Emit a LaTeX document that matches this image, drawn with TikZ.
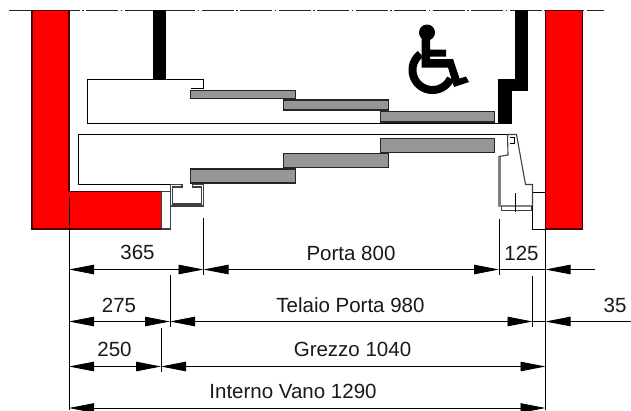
\documentclass[tikz,border=0pt]{standalone}
\usepackage{fontspec}
\setmainfont{Liberation Sans}
\usetikzlibrary{arrows.meta}
\definecolor{brick}{RGB}{255,0,0}
\definecolor{glass}{RGB}{150,150,150}
\tikzset{
  wall/.style={fill=brick,draw=black!70!red,line width=1.1pt},
  outline/.style={draw=black,line width=1pt},
  profile/.style={draw=black!75,line width=1.1pt},
  pane/.style={fill=glass,draw=black!85,line width=1.1pt},
  solidpart/.style={fill=black,draw=black,line width=.6pt},
  axisline/.style={draw=black!85,line width=1pt,dash pattern=on 32pt off 2.5pt on 1.5pt off 2.5pt},
  extline/.style={draw=black,line width=.9pt},
  dimline/.style={draw=black,line width=.8pt,{Triangle[length=25pt,width=9.5pt]}-{Triangle[length=25pt,width=9.5pt]}},
  dimplain/.style={draw=black,line width=.8pt},
  dimopen/.style={draw=black,line width=.8pt,{Triangle[length=25pt,width=9.5pt]}-},
  dimtext/.style={font=\fontsize{20.5}{23}\selectfont,inner sep=0pt,text=black!90},
}
\begin{document}
\begin{tikzpicture}[x=1pt,y=-1pt]
\useasboundingbox (0,0) rectangle (631,410);
\clip (0,0) rectangle (631,410);
\fill[white] (0,0) rectangle (631,410);
% axis
\coordinate (axL) at (9,10.5); \coordinate (axR) at (604,10.5);
\draw[axisline] (axL) -- (axR);
% walls
\draw[wall] (32,10.5) -- (69,10.5) -- (69,191.5) -- (161.5,191.5) -- (161.5,229) -- (32,229) -- cycle;
\draw[wall] (545.5,10.5) rectangle (582.5,229);
\draw[profile,fill=white] (161.5,191.5) rectangle (170.5,229);
% black partition
\draw[solidpart] (153.5,10.5) rectangle (165,79);
\draw[solidpart] (515,10.5) -- (527.5,10.5) -- (527.5,90.5) -- (511,90.5) -- (511,123.5) -- (498.5,123.5) -- (498.5,79) -- (515,79) -- cycle;
% door leaves
\draw[outline] (190.5,88.5) -- (203.5,88.5) -- (203.5,79) -- (87.5,79) -- (87.5,123.5) -- (510.5,123.5);
\draw[outline] (170,184.5) -- (78,184.5) -- (78,134.5) -- (507,134.5);
% panes
\draw[pane] (190.5,90.5) rectangle (295.5,98.5);
\draw[pane] (283.5,100) rectangle (388.3,110);
\draw[pane] (380.7,111.5) rectangle (494.3,122);
\draw[pane] (380.7,138.3) rectangle (494.3,152.3);
\draw[pane] (283.5,153.5) rectangle (388.3,167.3);
\draw[pane] (190.5,169) rectangle (295.5,183);
% left frame
\draw[profile] (182,187) -- (182,184.5) -- (170.5,184.5) -- (170.5,206) -- (203.5,206) -- (203.5,184.5) -- (192.5,184.5) -- (192.5,187) -- (201.5,187) -- (201.5,204) -- (172.5,204) -- (172.5,187) -- cycle;
% right frame
\draw[profile] (507.5,134.5) -- (516.5,134.5) -- (525.5,184.5) -- (532.5,184.5) -- (532.5,206) -- (499,206) -- (499,156.5) -- (508,155) -- cycle;
\draw[profile,line width=2pt,draw=black!50] (499.5,156.5) -- (499.5,206);
\draw[outline] (510,137) -- (514,137) -- (514,143) -- (510,143);
\draw[profile,line width=.9pt] (501,206) -- (501,210) -- (531,210) -- (531,206);
\draw[outline,line width=.7pt] (515.5,193) -- (515.5,212);
\draw[outline] (532.5,206) -- (532.5,229) -- (545.5,229);
\draw[outline] (532.5,192) -- (545.5,192);
% wheelchair symbol
\fill (427,32.5) circle (8);
\fill (423.5,35) -- (430,35) -- (430,49.5) -- (446,49.5) -- (446,56.5) -- (430,56.5) -- (430,59) -- (453,59) -- (459.5,78.5) -- (466,76.5) -- (469,82) -- (454,87) -- (448,67.5) -- (421.5,67.5) -- (421.5,35) -- cycle;
\draw[line width=8pt] plot[domain=233:25,samples=40] ({432.5+20*cos(\x)},{70+20*sin(\x)});
% dimension references
\coordinate (A1) at (69,269.5); \coordinate (B1) at (203.5,269.5); \coordinate (C1) at (499,269.5); \coordinate (D1) at (545.5,269.5); \coordinate (E1) at (595,269.5);
\coordinate (A2) at (69,321.5); \coordinate (B2) at (170,321.5); \coordinate (C2) at (532.5,321.5); \coordinate (D2) at (545.5,321.5); \coordinate (E2) at (631,321.5);
\coordinate (A3) at (69,366.5); \coordinate (B3) at (161,366.5); \coordinate (D3) at (545.5,366.5);
\coordinate (A4) at (69,408); \coordinate (D4) at (545.5,408);
% extension lines
\draw[extline] (69,197) -- (69,410);
\draw[extline] (545.5,229) -- (545.5,410);
\draw[extline] (203.5,218) -- (203.5,274.5);
\draw[extline] (499,219) -- (499,274.5);
\draw[extline] (170,274.5) -- (170,326.5);
\draw[extline] (532.5,276) -- (532.5,326.5);
\draw[extline] (161,328) -- (161,372);
% dimensions
\draw[dimline] (A1) -- (B1);
\draw[dimline] (B1) -- (C1);
\draw[dimplain] (C1) -- (D1);
\draw[dimopen] (D1) -- (E1);
\draw[dimline] (A2) -- (B2);
\draw[dimline] (B2) -- (C2);
\draw[dimplain] (C2) -- (D2);
\draw[dimopen] (D2) -- (E2);
\draw[dimline] (A3) -- (B3);
\draw[dimline] (B3) -- (D3);
\draw[dimline] (A4) -- (D4);
% texts
\node[dimtext] (t365) at (137.5,252.5) {365};
\node[dimtext] (t800) at (351,253.5) {Porta 800};
\node[dimtext] (t125) at (521.5,253.5) {125};
\node[dimtext] (t275) at (119,305.5) {275};
\node[dimtext] (t980) at (350.5,305.5) {Telaio Porta 980};
\node[dimtext] (t35) at (615,305.5) {35};
\node[dimtext] (t250) at (114.5,349) {250};
\node[dimtext] (t1040) at (352.5,349) {Grezzo 1040};
\node[dimtext] (t1290) at (293,391) {Interno Vano 1290};
\end{tikzpicture}
\end{document}
